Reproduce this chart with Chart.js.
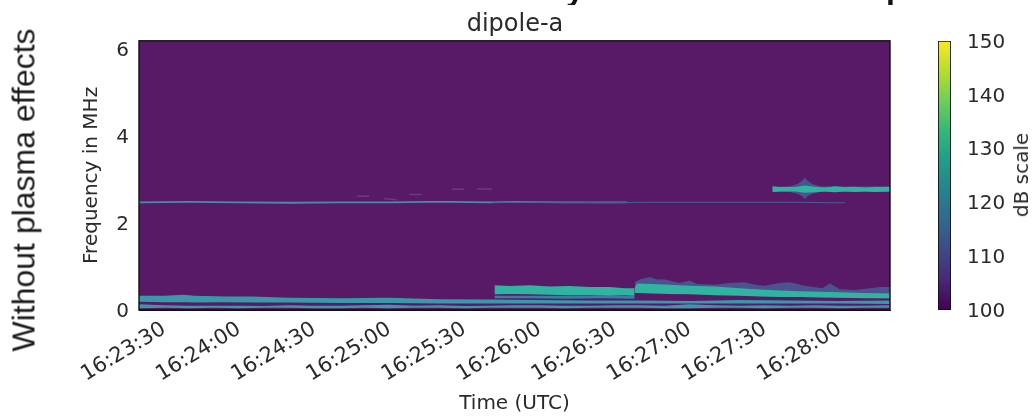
<!DOCTYPE html>
<html><head><meta charset="utf-8">
<script src="https://cdn.jsdelivr.net/npm/chart.js@4"></script>
<style>
html,body{margin:0;padding:0;background:#fff;width:1034px;height:416px;overflow:hidden}
canvas{filter:blur(.45px)}
#main{position:absolute;left:0;top:0}
#cb{position:absolute;left:900px;top:0}
#side{position:absolute;left:24px;top:190px;transform:translate(-50%,-50%) rotate(-90deg);font:32px "Liberation Sans",Arial,sans-serif;color:#1a1a1a;white-space:nowrap}
#dbs{position:absolute;left:1021px;top:175px;transform:translate(-50%,-50%) rotate(-90deg);font:20px "DejaVu Sans",sans-serif;color:#2a2a2a;white-space:nowrap;filter:blur(.45px)}
.cut{position:absolute;top:0;height:5px;width:24px;overflow:hidden}
.cut span{position:absolute;left:0;top:-27px;font:bold 32px/32px "Liberation Sans",Arial,sans-serif;color:#111}
</style></head><body>
<canvas id="main" width="1030" height="416"></canvas>
<canvas id="cb" width="134" height="416"></canvas>
<div id="side">Without plasma effects</div>
<div id="dbs">dB scale</div>
<div class="cut" style="left:566px"><span>y</span></div>
<div class="cut" style="left:886px"><span>p</span></div>
<script>
// seconds after 16:23:00
const xTicks=[30,60,90,120,150,180,210,240,270,300];
const xLabels=['16:23:30','16:24:00','16:24:30','16:25:00','16:25:30','16:26:00','16:26:30','16:27:00','16:27:30','16:28:00'];
const yTicks=[0,2,4,6];
const cbTicks=[100,110,120,130,140,150];

const line248T=[20,40,60,80,100,120,135,145,160,170,190,200,215];
const line248F=[2.48,2.49,2.48,2.47,2.48,2.48,2.49,2.49,2.48,2.49,2.48,2.48,2.48];
const line248bT=[161,175,190,205,225,250,270,285,295,302];
const line248bF=[2.48,2.48,2.49,2.47,2.48,2.48,2.48,2.48,2.47,2.47];

const lowAT=[20,30,38,42,55,65,80,100,120,140,160,180,200,220,240,260,280,300,320];
const lowALo=[.19,.18,.18,.17,.18,.17,.17,.16,.16,.15,.15,.15,.15,.15,.15,.15,.15,.15,.14];
const lowAHi=[.33,.33,.35,.33,.31,.31,.28,.27,.28,.25,.24,.23,.22,.22,.21,.23,.22,.21,.22];

const lowBT=[20,30,40,50,60,70,80,90,100,110,120,130,140,150,160,170,180,190,200,210,220,230,240,250,260,270,280,290,300,310,320];
const lowBLo=[.04,.05,.04,.05,.04,.05,.05,.04,.04,.05,.04,.05,.05,.04,.05,.05,.05,.04,.05,.05,.05,.04,.04,.05,.05,.04,.05,.05,.04,.05,.05];
const lowBHi=[.13,.11,.10,.10,.10,.09,.11,.10,.10,.11,.12,.10,.11,.09,.10,.11,.11,.10,.10,.11,.11,.10,.13,.11,.10,.11,.10,.11,.10,.10,.11];

const lowCT=[162,175,190,205,218];
const lowCLo=[.27,.27,.26,.27,.26];
const lowCHi=[.33,.33,.33,.33,.33];

const teal1T=[162,168,176,184,192,200,208,214,218];
const teal1Lo=[.36,.37,.36,.35,.34,.34,.33,.34,.33];
const teal1Hi=[.57,.55,.57,.54,.55,.53,.53,.50,.50];

const haloT=[218,220,224,227,230,236,240,243,250,256,262,266,270,276,280,286,293,296,300,306,312,316,320];
const haloHi=[.64,.70,.76,.70,.70,.62,.68,.60,.58,.62,.64,.58,.56,.62,.64,.56,.50,.61,.48,.46,.50,.53,.53];
const haloLo=[.40,.40,.40,.40,.40,.38,.38,.38,.36,.36,.34,.34,.34,.32,.32,.30,.30,.30,.29,.28,.28,.27,.27];

const teal2T=[218,219,225,232,240,250,260,268,276,284,292,300,310,320];
const teal2Lo=[.39,.39,.38,.37,.36,.34,.33,.31,.30,.30,.29,.28,.27,.27];
const teal2Hi=[.52,.61,.60,.58,.56,.54,.50,.47,.45,.43,.42,.41,.39,.38];

const upHaloT=[273,280,283,285,286,287,289,292,300,320];
const upHaloLo=[2.73,2.72,2.68,2.62,2.55,2.62,2.68,2.72,2.72,2.72];
const upHaloHi=[2.83,2.85,2.90,2.98,3.05,2.98,2.90,2.85,2.84,2.85];
const upT=[273,276,282,286,290,294,298,302,306,310,314,320];
const upLo=[2.71,2.73,2.73,2.70,2.71,2.73,2.71,2.73,2.72,2.73,2.72,2.73];
const upHi=[2.85,2.83,2.83,2.87,2.84,2.82,2.85,2.83,2.84,2.82,2.83,2.83];

const faintT=[107,112,null,118,123,null,145,150,null,155,161,null,128,133];
const faintF=[2.62,2.62,null,2.56,2.54,null,2.78,2.78,null,2.79,2.78,null,2.66,2.66];

const TEAL='#30b4a0', CYAN='#3a98a8', BLUE='#3f7ba0', HALO='#4a5290', BG='#581a66';
const pts=(t,f)=>t.map((v,i)=>({x:v,y:f[i]}));
const base={pointRadius:0,borderWidth:0,tension:0};
function band(t,lo,hi,color){
  return [
    {...base,data:pts(t,lo),fill:false},
    {...base,data:pts(t,hi),fill:'-1',backgroundColor:color}
  ];
}
// listed bottom layer first; order makes later entries draw on top
const layers=[
  ...band(lowAT,lowALo,lowAHi,CYAN),
  ...band(lowBT,lowBLo,lowBHi,CYAN),
  ...band(lowCT,lowCLo,lowCHi,BLUE),
  {...base,data:pts(line248T,line248F),borderColor:'#4f88aa',borderWidth:1.8},
  {...base,data:pts(line248bT,line248bF),borderColor:'#475f92',borderWidth:1.1},
  {...base,data:pts(faintT,faintF),borderColor:'#6a3a80',borderWidth:1.5},
  ...band(haloT,haloLo,haloHi,HALO),
  ...band(upHaloT,upHaloLo,upHaloHi,HALO),
  ...band(teal1T,teal1Lo,teal1Hi,TEAL),
  ...band(teal2T,teal2Lo,teal2Hi,TEAL),
  ...band(upT,upLo,upHi,TEAL)
];
const datasets=[];
layers.forEach((d,i)=>{d.order=layers.length-i;datasets.push(d);});
const frame={id:'frame',
  beforeDatasetsDraw(c){const a=c.chartArea,x=c.ctx;x.save();x.fillStyle=BG;x.fillRect(a.left,a.top,a.width,a.height);x.restore();},
  afterDraw(c){const a=c.chartArea,x=c.ctx;x.save();x.strokeStyle='#111';x.lineWidth=1.4;x.strokeRect(a.left,a.top,a.width,a.height);x.restore();}
};
// DejaVu digits sit a little above the canvas "middle" baseline: nudge y tick labels down
function nudgeLabels(s){
  if(s._nudged)return; s._nudged=true;
  const d=s.drawLabels.bind(s);
  s.drawLabels=function(a){s.ctx.save();s.ctx.translate(0,1.5);d(a);s.ctx.restore();};
}
const tickFont={family:'"DejaVu Sans"',size:20};
const textCol='#2a2a2a';
new Chart(document.getElementById('main'),{
  type:'line',
  data:{datasets},
  plugins:[frame],
  options:{
    responsive:false,animation:false,
    layout:{padding:{left:80,top:0,right:80,bottom:0}},
    plugins:{legend:{display:false},tooltip:{enabled:false},
      title:{display:true,text:'dipole-a',color:textCol,font:{family:'"DejaVu Sans"',size:24,weight:'normal'},padding:{top:10,bottom:2}}},
    scales:{
      x:{type:'linear',min:20,max:320,
        afterBuildTicks(s){s.ticks=xTicks.map(v=>({value:v}));},
        afterFit(s){s.height=106;},
        ticks:{autoSkip:false,maxRotation:31,minRotation:31,color:textCol,font:{family:'"DejaVu Sans"',size:21},padding:0,
          callback(v){return xLabels[xTicks.indexOf(v)];}},
        grid:{display:false,drawTicks:true,tickLength:7,tickColor:'#111'},border:{color:'#111'},
        title:{display:true,text:'Time (UTC)',color:textCol,font:{family:'"DejaVu Sans"',size:20},padding:{top:0,bottom:0}}},
      y:{type:'linear',min:0,max:6.2,
        afterBuildTicks(s){s.ticks=yTicks.map(v=>({value:v}));},
        afterFit(s){s.width=59;nudgeLabels(s);},
        ticks:{color:textCol,font:tickFont,padding:3},
        grid:{display:false,drawTicks:true,tickLength:7,tickColor:'#111'},border:{color:'#111'},
        title:{display:true,text:'Frequency in MHz',color:textCol,font:{family:'"DejaVu Sans"',size:20},padding:{top:0,bottom:0}}},
      // empty spacer so the title centres over the plot
      spacer:{type:'linear',position:'right',
        afterBuildTicks(s){s.ticks=[];},
        afterFit(s){s.width=60;},
        ticks:{display:false},grid:{display:false},border:{display:false}}
    }
  }
});
// colour bar
const cbCanvas=document.getElementById('cb');
const viridis=['#440154','#482878','#3e4a89','#31688e','#26828e','#1f9e89','#35b779','#6ece58','#b5de2b','#fde725'];
const cbBar={label:'dB scale',data:[[cbTicks[0],cbTicks[cbTicks.length-1]]],barPercentage:1,categoryPercentage:1,
  borderColor:'#111',borderWidth:1.2,borderSkipped:false,
  backgroundColor(ctx){const a=ctx.chart.chartArea;if(!a)return viridis[0];
    const g=ctx.chart.ctx.createLinearGradient(0,a.bottom,0,a.top);
    viridis.forEach((c,i)=>g.addColorStop(i/(viridis.length-1),c));return g;}};
new Chart(cbCanvas,{
  type:'bar',
  data:{labels:[''],datasets:[cbBar]},
  options:{
    responsive:false,animation:false,
    layout:{padding:{left:38,top:41,right:0,bottom:106}},
    plugins:{legend:{display:false},tooltip:{enabled:false}},
    scales:{
      x:{display:false},
      y:{position:'right',min:100,max:150,
        afterBuildTicks(s){s.ticks=cbTicks.map(v=>({value:v}));},
        afterFit(s){s.width=83;nudgeLabels(s);},
        ticks:{color:textCol,font:tickFont,padding:9},
        grid:{display:false,drawTicks:true,tickLength:7,tickColor:'#555'},border:{display:false}}
    }
  }
});
</script></body></html>
